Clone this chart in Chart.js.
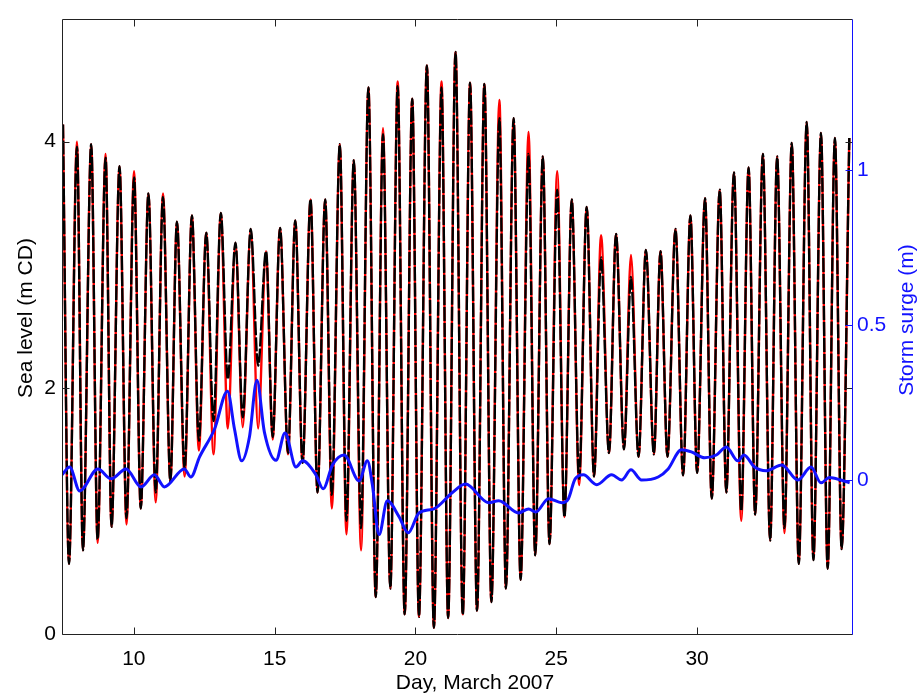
<!DOCTYPE html>
<html>
<head>
<meta charset="utf-8">
<script src="https://cdn.jsdelivr.net/npm/chart.js@4"></script>
<style>
  html, body { margin: 0; padding: 0; background: #fff; }
  #wrap { width: 924px; height: 695px; }
</style>
</head>
<body>
<div id="wrap"><canvas id="c" width="924" height="695"></canvas></div>
<script>
// tide extremes (high / low waters), day of March 2007
const tideDays = [
  7.485, 7.698, 7.981, 8.193, 8.487, 8.714, 8.997, 9.209, 9.492, 9.740,
  10.009, 10.246, 10.519, 10.777, 11.036, 11.298, 11.531, 11.804, 12.062, 12.310,
  12.572, 12.830, 13.089, 13.337, 13.609, 13.868, 14.151, 14.413, 14.696, 14.930,
  15.192, 15.475, 15.733, 15.992, 16.275, 16.523, 16.795, 17.032, 17.315, 17.549,
  17.811, 18.069, 18.328, 18.590, 18.848, 19.107, 19.369, 19.617, 19.886, 20.123,
  20.406, 20.654, 20.926, 21.160, 21.422, 21.680, 21.939, 22.186, 22.448, 22.696,
  22.979, 23.213, 23.485, 23.733, 24.016, 24.253, 24.523, 24.760, 25.032, 25.290,
  25.549, 25.811, 26.080, 26.342, 26.590, 26.873, 27.121, 27.404, 27.652, 27.921,
  28.183, 28.466, 28.700, 28.948, 29.231, 29.504, 29.762, 30.000, 30.282, 30.520,
  30.803, 31.037, 31.308, 31.567, 31.828, 32.062, 32.335, 32.593, 32.841, 33.103,
  33.362, 33.610, 33.893, 34.130, 34.399, 34.636, 34.894, 35.132, 35.404
];

// observed sea level (black), m CD
const observed = [
  4.14, 0.57, 3.96, 0.68, 3.98, 0.77, 3.87, 0.87, 3.80, 0.94,
  3.71, 1.02, 3.58, 1.15, 3.55, 1.24, 3.35, 1.34, 3.40, 1.57,
  3.26, 1.73, 3.42, 2.07, 3.18, 1.76, 3.29, 2.18, 3.11, 1.60,
  3.30, 1.47, 3.36, 1.39, 3.53, 1.15, 3.53, 1.13, 3.98, 0.92,
  3.85, 0.86, 4.44, 0.30, 4.06, 0.37, 4.45, 0.16, 4.35, 0.14,
  4.62, 0.05, 4.44, 0.13, 4.73, 0.16, 4.48, 0.19, 4.47, 0.26,
  4.19, 0.37, 4.19, 0.44, 3.90, 0.64, 3.88, 0.73, 3.61, 0.95,
  3.53, 1.26, 3.47, 1.28, 3.06, 1.47, 3.25, 1.50, 2.90, 1.44,
  3.12, 1.46, 3.11, 1.44, 3.29, 1.29, 3.40, 1.31, 3.54, 1.10,
  3.61, 1.15, 3.75, 1.00, 3.79, 0.97, 3.90, 0.76, 3.88, 0.86,
  3.99, 0.57, 4.16, 0.60, 4.07, 0.53, 4.03, 0.69, 4.03
];

// predicted tide (red), m CD
const predicted = [
  4.14, 0.57, 4.00, 0.68, 3.98, 0.74, 3.90, 0.87, 3.80, 0.89,
  3.76, 1.02, 3.58, 1.07, 3.58, 1.24, 3.35, 1.28, 3.40, 1.49,
  3.26, 1.46, 3.42, 1.67, 3.18, 1.68, 3.29, 1.67, 3.11, 1.58,
  3.30, 1.46, 3.36, 1.39, 3.53, 1.15, 3.53, 1.02, 3.98, 0.81,
  3.85, 0.68, 4.44, 0.30, 4.11, 0.37, 4.49, 0.16, 4.35, 0.14,
  4.62, 0.05, 4.49, 0.13, 4.73, 0.16, 4.48, 0.19, 4.47, 0.26,
  4.34, 0.37, 4.19, 0.44, 4.08, 0.64, 3.88, 0.73, 3.76, 0.95,
  3.53, 1.21, 3.47, 1.28, 3.24, 1.47, 3.25, 1.50, 3.08, 1.44,
  3.12, 1.46, 3.11, 1.44, 3.29, 1.29, 3.40, 1.31, 3.54, 1.10,
  3.61, 1.15, 3.75, 0.92, 3.79, 0.97, 3.90, 0.76, 3.88, 0.82,
  3.99, 0.57, 4.16, 0.60, 4.07, 0.53, 4.03, 0.69, 4.03
];

// storm surge (blue), m
const surgeDays = [
  7.45, 7.723, 8.077, 8.724, 9.195, 9.726, 10.257, 10.731, 11.085, 11.793,
  12.027, 12.335, 12.866, 13.326, 13.574, 13.832, 14.105, 14.370, 14.636, 15.050,
  15.369, 15.758, 15.992, 16.466, 16.724, 17.054, 17.468, 18.000, 18.293, 18.470,
  18.707, 19.000, 19.415, 19.744, 20.123, 20.654, 21.302, 21.776, 22.600, 22.954,
  23.662, 24.016, 24.275, 24.724, 25.195, 25.432, 25.670, 25.963, 26.434, 26.965,
  27.319, 27.652, 28.027, 28.618, 28.972, 29.443, 29.797, 30.271, 30.682, 31.037,
  31.450, 31.663, 32.041, 32.452, 33.007, 33.574, 34.045, 34.399, 34.697, 35.108,
  35.416
];
const surge = [
  0.017, 0.042, -0.035, 0.036, 0.004, 0.036, -0.022, 0.017, -0.022, 0.036,
  0.010, 0.075, 0.165, 0.287, 0.165, 0.062, 0.139, 0.322, 0.155, 0.064,
  0.152, 0.042, 0.062, 0.017, -0.028, 0.049, 0.081, -0.003, 0.062, -0.015,
  -0.176, -0.067, -0.118, -0.170, -0.106, -0.093, -0.041, -0.013, -0.073, -0.067,
  -0.106, -0.093, -0.103, -0.060, -0.073, -0.060, 0.004, 0.017, -0.015, 0.017,
  0.000, 0.033, 0.000, 0.010, 0.036, 0.098, 0.091, 0.072, 0.081, 0.107,
  0.062, 0.081, 0.042, 0.030, 0.049, 0.000, 0.042, -0.009, 0.008, 0.000,
  -0.009
];

const xTicks = [10, 15, 20, 25, 30];
const levelTicks = [0, 2, 4];
const surgeTicks = [0, 0.5, 1];

const FONT = '"Liberation Sans", Arial, Helvetica, sans-serif';
const BLUE = '#1212ff';

function pts(xs, ys) {
  return xs.map((x, i) => ({ x: x, y: ys[i] }));
}

// MATLAB-like box, inward ticks and axis titles
const framePlugin = {
  id: 'frame',
  afterDatasetsDraw(chart) {
    const { ctx, chartArea: a, scales } = chart;
    const L = Math.round(a.left) + 0.5, R = Math.round(a.right) + 0.5;
    const T = Math.round(a.top) + 0.5, B = Math.round(a.bottom) + 0.5;
    const tl = 7;
    ctx.save();
    ctx.lineWidth = 1;
    ctx.strokeStyle = '#222';
    ctx.beginPath();
    ctx.moveTo(R, T); ctx.lineTo(L, T); ctx.lineTo(L, B); ctx.lineTo(R, B);
    ctx.stroke();

    ctx.beginPath();
    xTicks.forEach(v => {
      const px = Math.round(scales.x.getPixelForValue(v)) + 0.5;
      ctx.moveTo(px, B); ctx.lineTo(px, B - tl);
      ctx.moveTo(px, T); ctx.lineTo(px, T + tl);
    });
    levelTicks.forEach(v => {
      const py = Math.round(scales.y.getPixelForValue(v)) + 0.5;
      ctx.moveTo(L, py); ctx.lineTo(L + tl, py);
      ctx.moveTo(R, py); ctx.lineTo(R - tl, py);
    });
    ctx.stroke();

    ctx.strokeStyle = BLUE;
    ctx.beginPath();
    ctx.moveTo(R, T); ctx.lineTo(R, B);
    surgeTicks.forEach(v => {
      const py = Math.round(scales.y2.getPixelForValue(v)) + 0.5;
      ctx.moveTo(R, py); ctx.lineTo(R - tl, py);
    });
    ctx.stroke();

    ctx.font = '21px ' + FONT;
    ctx.textAlign = 'center';
    ctx.textBaseline = 'middle';
    ctx.fillStyle = '#000';
    ctx.fillText('Day, March 2007', 475, 683);

    ctx.save();
    ctx.translate(26, 318);
    ctx.rotate(-Math.PI / 2);
    ctx.fillText('Sea level (m CD)', 0, 0);
    ctx.restore();

    ctx.save();
    ctx.fillStyle = BLUE;
    ctx.translate(907, 320);
    ctx.rotate(-Math.PI / 2);
    ctx.fillText('Storm surge (m)', 0, 0);
    ctx.restore();
    ctx.restore();
  }
};

new Chart(document.getElementById('c'), {
  type: 'line',
  data: {
    datasets: [
      {
        label: 'Storm surge',
        data: pts(surgeDays, surge),
        yAxisID: 'y2',
        borderColor: BLUE,
        borderWidth: 3,
        pointRadius: 0,
        cubicInterpolationMode: 'monotone'
      },
      {
        label: 'Observed',
        data: pts(tideDays, observed),
        yAxisID: 'y',
        borderColor: '#000',
        borderWidth: 2.4,
        borderDash: [14, 2],
        pointRadius: 0,
        cubicInterpolationMode: 'monotone'
      },
      {
        label: 'Predicted',
        data: pts(tideDays, predicted),
        yAxisID: 'y',
        borderColor: '#ff0000',
        borderWidth: 2.4,
        pointRadius: 0,
        cubicInterpolationMode: 'monotone'
      }
    ]
  },
  options: {
    responsive: false,
    animation: false,
    layout: { padding: { top: 14, left: 0, right: 0, bottom: 0 } },
    plugins: { legend: { display: false }, tooltip: { enabled: false } },
    scales: {
      x: {
        type: 'linear',
        min: 7.45,
        max: 35.5,
        afterBuildTicks: s => { s.ticks = xTicks.map(v => ({ value: v })); },
        afterFit: s => { s.height = 61; },
        grid: { display: false, drawTicks: false },
        border: { display: false },
        ticks: { color: '#000', padding: 13, maxRotation: 0, font: { family: FONT, size: 21 },
          callback: v => String(v) }
      },
      y: {
        position: 'left',
        min: 0,
        max: 5,
        afterBuildTicks: s => { s.ticks = levelTicks.map(v => ({ value: v })); },
        afterFit: s => { s.width = 62; },
        grid: { display: false, drawTicks: false },
        border: { display: false },
        ticks: { color: '#000', padding: 6, font: { family: FONT, size: 21 },
          callback: v => String(v) }
      },
      y2: {
        position: 'right',
        min: -0.497,
        max: 1.49,
        afterBuildTicks: s => { s.ticks = surgeTicks.map(v => ({ value: v })); },
        afterFit: s => { s.width = 72; },
        grid: { display: false, drawTicks: false },
        border: { display: false },
        ticks: { color: BLUE, padding: 5, font: { family: FONT, size: 21 },
          callback: v => String(v) }
      }
    }
  },
  plugins: [framePlugin]
});
</script>
</body>
</html>
